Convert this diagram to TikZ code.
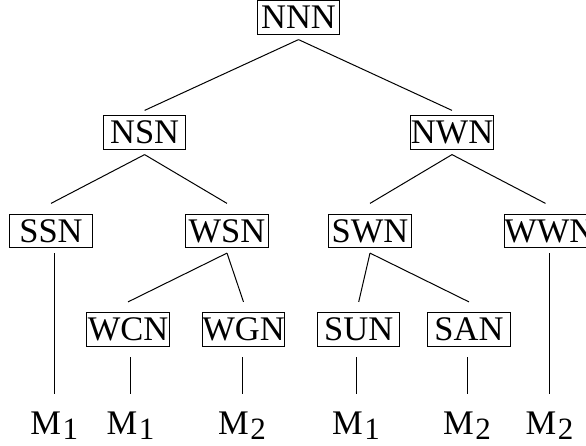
\documentclass[tikz,border=0pt]{standalone}
\usepackage{fontspec}
\setmainfont{Liberation Serif}
\newcommand{\Msub}[1]{M\kern1.5pt\raisebox{-5pt}{\fontsize{31}{31}\selectfont #1}}
\tikzset{
  box/.style={draw, text width=82.5pt, align=center, inner xsep=0pt, inner ysep=5.2pt,
    text height=22.8pt, text depth=0pt, outer ysep=5.5pt},
  lowbox/.style={box, outer ysep=11pt},
  leaf/.style={inner sep=0pt, anchor=base}
}
\begin{document}
\begin{tikzpicture}[x=1pt, y=-1pt, line width=1pt, font=\fontsize{34.5}{40}\selectfont]
      \useasboundingbox (0,0) rectangle (586,445);
      \draw
        (298.5,17.5) node[box] (nnn){NNN}
        (144.6,132.5) node[box] (nsn){NSN}
        (452,132.5) node[box] (nwn){NWN}
        (51,231) node[box] (ssn){SSN}
        (227,231) node[box] (wsn){WSN}
        (370,231) node[box] (swn){SWN}
        (545.5,231) node[box] (wwn){WWN}
        (128,329.5) node[lowbox] (wcn){WCN}
        (243.5,329.5) node[lowbox] (wgn){WGN}
        (358.7,329.5) node[lowbox] (sun){SUN}
        (469,329.5) node[lowbox] (san){SAN};
      \draw
        (54.2,434) node[leaf] (m1a){\Msub{1}}
        (130.5,434) node[leaf] (m1b){\Msub{1}}
        (242,434) node[leaf] (m2a){\Msub{2}}
        (356,434) node[leaf] (m1c){\Msub{1}}
        (467,434) node[leaf] (m2b){\Msub{2}}
        (549.5,434) node[leaf] (m2c){\Msub{2}};
      \begin{scope}[-]
        \draw (nnn.south) to (nsn.north);
        \draw (nnn.south) to (nwn.north);
        \draw (nsn.south) to ([yshift=5.5pt]ssn.north);
        \draw (nsn.south) to ([yshift=5.5pt]wsn.north);
        \draw (nwn.south) to ([yshift=5.5pt]swn.north);
        \draw (nwn.south) to ([yshift=5.5pt]wwn.north);
        \draw (wsn.south) to (wcn.north);
        \draw (wsn.south) to (wgn.north);
        \draw (swn.south) to (sun.north);
        \draw (swn.south) to (san.north);
      \end{scope}
      \begin{scope}[shorten >=17pt]
        \draw (m1a.north |- ssn.south) to (m1a.north);
        \draw (m1b.north |- wcn.south) to (m1b.north);
        \draw (m2a.north |- wgn.south) to (m2a.north);
        \draw (m1c.north |- sun.south) to (m1c.north);
        \draw (m2b.north |- san.south) to (m2b.north);
        \draw (m2c.north |- wwn.south) to (m2c.north);
      \end{scope}
    \end{tikzpicture}
\end{document}
